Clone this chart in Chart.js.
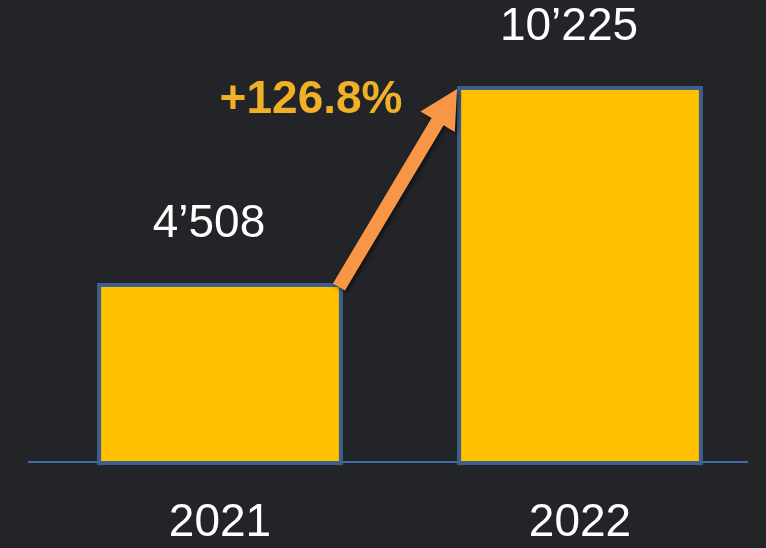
<!DOCTYPE html>
<html>
<head>
<meta charset="utf-8">
<script src="https://cdn.jsdelivr.net/npm/chart.js@4/dist/chart.umd.min.js"></script>
<style>
  html, body { margin: 0; padding: 0; background: #232428; }
  #wrap { width: 766px; height: 548px; }
</style>
</head>
<body>
<div id="wrap"><canvas id="barChart" width="766" height="548"></canvas></div>
<script>
// chart data
var years = ['2021', '2022'];
var revenue = [4508, 10225];
var valueLabels = ['4\u2019508', '10\u2019225'];
var growthLabel = '+126.8%';

var FONT = "'Liberation Sans', Arial, sans-serif";
var AXIS_MIN = -773; // the original bars are not drawn from zero

// labels, baseline and growth arrow
var decorations = {
	id: 'decorations',
	beforeDatasetsDraw: function (chart) {
		var ctx = chart.ctx, area = chart.chartArea;
		ctx.save();
		ctx.strokeStyle = '#3F6EA5';
		ctx.lineWidth = 2;
		ctx.beginPath();
		ctx.moveTo(area.left - 12, area.bottom - 3);
		ctx.lineTo(area.right - 12, area.bottom - 3);
		ctx.stroke();
		ctx.restore();
	},
	afterDatasetsDraw: function (chart) {
		var ctx = chart.ctx;
		var bars = chart.getDatasetMeta(0).data;
		ctx.save();
		ctx.fillStyle = '#ffffff';
		ctx.font = '46px ' + FONT;
		ctx.textAlign = 'center';
		ctx.textBaseline = 'middle';
		bars.forEach(function (bar, i) {
			ctx.fillText(valueLabels[i], bar.x - 11, bar.y - 59);
		});

		// arrow from top-right of first bar to top-left of second
		var a = bars[0], b = bars[1];
		var x1 = a.x + a.width / 2 - 4, y1 = a.y + 4;
		var x2 = b.x - b.width / 2, y2 = b.y + 3;
		var dx = x2 - x1, dy = y2 - y1, len = Math.sqrt(dx * dx + dy * dy);
		var ux = dx / len, uy = dy / len, px = -uy, py = ux;
		var headLen = 38, headHalf = 20, shaftHalf = 7;
		var hx = x2 - ux * headLen, hy = y2 - uy * headLen;
		ctx.shadowColor = 'rgba(0,0,0,0.55)';
		ctx.shadowBlur = 4;
		ctx.shadowOffsetX = 2;
		ctx.shadowOffsetY = 2;
		ctx.fillStyle = '#F79646';
		ctx.beginPath();
		ctx.moveTo(x1 + px * shaftHalf, y1 + py * shaftHalf);
		ctx.lineTo(hx + px * shaftHalf, hy + py * shaftHalf);
		ctx.lineTo(hx + px * headHalf, hy + py * headHalf);
		ctx.lineTo(x2, y2);
		ctx.lineTo(hx - px * headHalf, hy - py * headHalf);
		ctx.lineTo(hx - px * shaftHalf, hy - py * shaftHalf);
		ctx.lineTo(x1 - px * shaftHalf, y1 - py * shaftHalf);
		ctx.closePath();
		ctx.fill();
		ctx.shadowColor = 'transparent';

		ctx.fillStyle = '#F0B028';
		ctx.font = 'bold 46px ' + FONT;
		ctx.fillText(growthLabel, x2 - 146, y2 + 11);
		ctx.restore();
	}
};

var ctxBar = document.getElementById('barChart').getContext('2d');
var barChart = new Chart(ctxBar, {
	type: 'bar',
	data: {
		labels: years,
		datasets: [{
			data: revenue,
			base: AXIS_MIN,
			backgroundColor: '#FFC000',
			borderColor: '#3C5F8E',
			borderWidth: 4,
			borderSkipped: false,
			categoryPercentage: 1,
			barPercentage: 0.683
		}]
	},
	options: {
		responsive: false,
		animation: false,
		events: [],
		layout: { padding: { top: 86, left: 40, right: 6, bottom: 0 } },
		plugins: { legend: { display: false }, tooltip: { enabled: false } },
		scales: {
			x: {
				grid: { display: false, drawTicks: false },
				border: { display: false },
				afterFit: function (scale) { scale.height = 83; },
				ticks: {
					color: '#ffffff',
					padding: 31,
					font: { family: FONT, size: 46 }
				}
			},
			y: {
				display: false,
				min: AXIS_MIN,
				max: 10225
			}
		}
	},
	plugins: [decorations]
});
</script>
</body>
</html>
